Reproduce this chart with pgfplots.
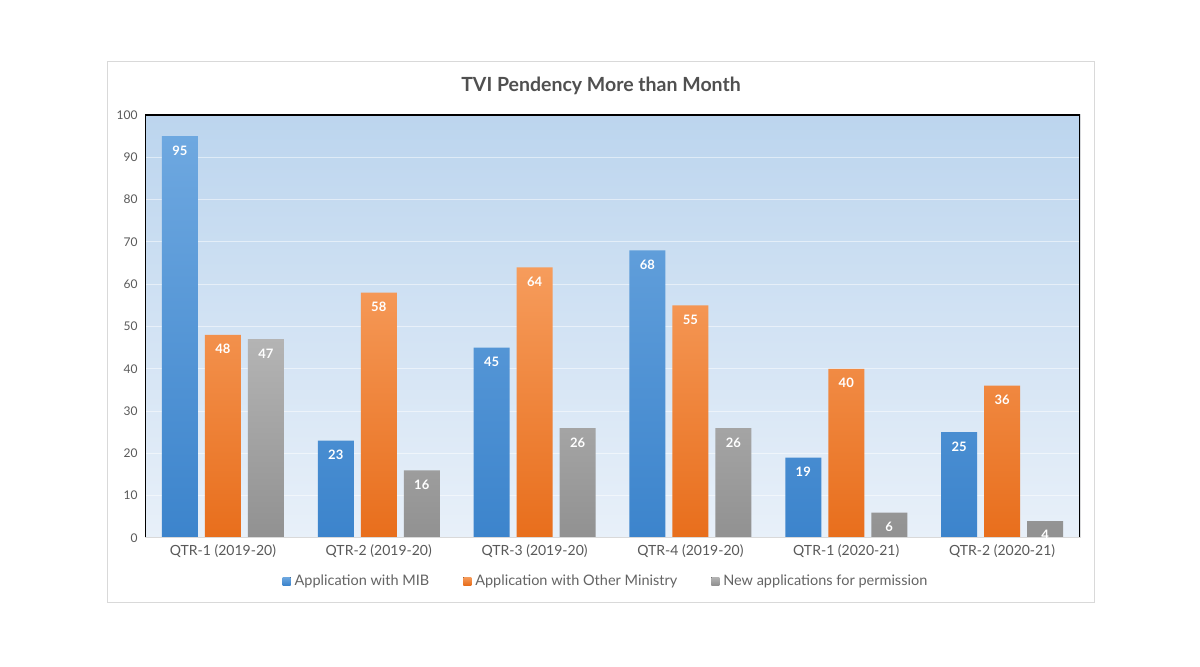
\documentclass[border=0pt]{standalone}
\usepackage{pgfplots}
\pgfplotsset{compat=1.18}
\usepackage{fontspec}
\setmainfont{Lato}
\definecolor{txt}{RGB}{89,89,89}
\definecolor{legtxt}{RGB}{100,100,100}
\definecolor{titlecol}{RGB}{80,80,80}
\definecolor{framecol}{RGB}{217,217,217}
\definecolor{bgtop}{RGB}{188,213,238}
\definecolor{bgbot}{RGB}{232,240,249}
\definecolor{bluetop}{RGB}{110,168,224}
\definecolor{bluebot}{RGB}{60,132,204}
\definecolor{orgtop}{RGB}{246,156,92}
\definecolor{orgbot}{RGB}{232,110,28}
\definecolor{grytop}{RGB}{180,180,180}
\definecolor{grybot}{RGB}{145,145,145}
\begin{document}
\begin{tikzpicture}[x=1bp,y=1bp]
\path[use as bounding box, fill=white] (0,0) rectangle (1200,667);
\draw[line width=1bp, framecol] (107,64) rectangle (1094,605);
\node[font=\bfseries\fontsize{19.5bp}{22bp}\selectfont, text=titlecol] at (601,581) {TVI Pendency More than Month};
\begin{axis}[
  scale only axis, width=935bp, height=423bp,
  at={(145bp,129bp)}, anchor=south west,
  xmin=-0.5, xmax=5.5, ymin=0, ymax=100,
  xtick={0,...,5},
  xticklabels={QTR-1 (2019-20),QTR-2 (2019-20),QTR-3 (2019-20),QTR-4 (2019-20),QTR-1 (2020-21),QTR-2 (2020-21)},
  ytick={0,10,...,100},
  major tick length=0pt, tick style={draw=none},
  ymajorgrids, grid style={white, opacity=0.5, line width=1bp},
  axis line style={draw=none},
  axis background/.style={top color=bgtop, bottom color=bgbot},
  ybar=7bp, bar width=36bp,
  /pgf/number format/assume math mode=true,
  yticklabel style={font=\fontsize{12bp}{14bp}\selectfont, text=txt, xshift=-4bp},
  xticklabel style={font=\fontsize{14bp}{16bp}\selectfont, text=txt, yshift=-3bp},
  legend style={at={(0.493,-0.1017)}, anchor=center, draw=none, fill=none,
    legend columns=3, font=\fontsize{14.5bp}{16bp}\selectfont, text=legtxt,
    /tikz/every odd column/.append style={column sep=2bp},
    /tikz/every even column/.append style={column sep=32bp}},
  legend image code/.code={\fill[#1,draw=none] (0bp,-4bp) rectangle (8bp,4bp);},
  nodes near coords,
  every node near coord/.append style={anchor=north, yshift=-6bp, text=white,
    font=\bfseries\fontsize{13bp}{15bp}\selectfont},
]
\addplot[draw=none, top color=bluetop, bottom color=bluebot] coordinates {(0,95) (1,23) (2,45) (3,68) (4,19) (5,25)};
\addplot[draw=none, top color=orgtop, bottom color=orgbot] coordinates {(0,48) (1,58) (2,64) (3,55) (4,40) (5,36)};
\addplot[draw=none, top color=grytop, bottom color=grybot] coordinates {(0,47) (1,16) (2,26) (3,26) (4,6) (5,4)};
\legend{Application with MIB, Application with Other Ministry, New applications for permission}
\draw[black, line width=1.2bp] (rel axis cs:0,0) -- (rel axis cs:0,1) -- (rel axis cs:1,1) -- (rel axis cs:1,0);
\draw[framecol, line width=1bp] (rel axis cs:0,0) -- (rel axis cs:1,0);
\end{axis}
\end{tikzpicture}
\end{document}
